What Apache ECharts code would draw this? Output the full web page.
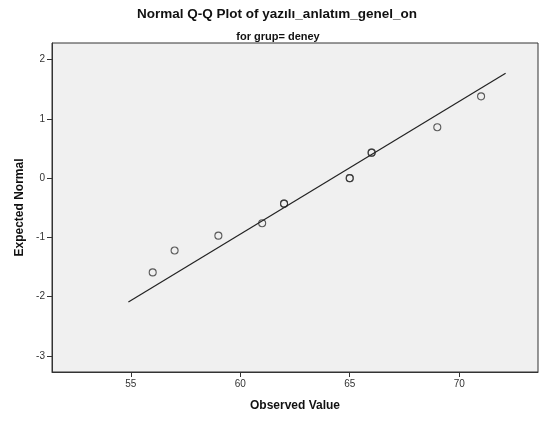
<!DOCTYPE html>
<html>
<head>
<meta charset="utf-8">
<script src="https://cdn.jsdelivr.net/npm/echarts@6/dist/echarts.min.js"></script>
<style>
  html, body { margin: 0; padding: 0; background: #fff; }
  #main { width: 542px; height: 421px; }
</style>
</head>
<body>
<div id="main"></div>
<script>
// observed values and their expected normal scores (ties drawn twice)
var observed = [56, 57, 59, 61, 62, 62, 65, 65, 66, 66, 69, 71];
var expected = [-1.59, -1.22, -0.97, -0.76, -0.43, -0.43, 0.0, 0.0, 0.43, 0.43, 0.86, 1.38];
// reference line end points
var lineX = [54.89, 72.12];
var lineY = [-2.09, 1.77];
var xTicks = [55, 60, 65, 70];
var yTicks = [-3, -2, -1, 0, 1, 2];

var font = 'Liberation Sans, Arial, sans-serif';
var myChart = echarts.init(document.getElementById('main'));

myChart.setOption({
  backgroundColor: '#fff',
  animation: false,
  title: [{
    text: 'Normal Q-Q Plot of yazılı_anlatım_genel_on',
    left: 272, top: 2, textAlign: 'center',
    textStyle: { fontFamily: font, fontSize: 13.5, fontWeight: 'bold', color: '#111' }
  }, {
    text: 'for grup= deney',
    left: 273, top: 26, textAlign: 'center',
    textStyle: { fontFamily: font, fontSize: 11, fontWeight: 'bold', color: '#111' }
  }],
  grid: {
    left: 52, top: 43, right: 4, bottom: 49,
    show: true,
    backgroundColor: '#f0f0f0',
    borderColor: '#333',
    borderWidth: 1
  },
  xAxis: {
    type: 'value',
    min: 51.4, max: 73.6,
    name: 'Observed Value',
    nameLocation: 'middle',
    nameGap: 28,
    nameTextStyle: { fontFamily: font, fontSize: 12, fontWeight: 'bold', color: '#111' },
    axisLine: { show: true, onZero: false, lineStyle: { color: '#333' } },
    axisTick: { show: true, length: 5, customValues: xTicks, lineStyle: { color: '#333' } },
    axisLabel: { customValues: xTicks, fontFamily: font, fontSize: 10, color: '#333', margin: 7 },
    splitLine: { show: false }
  },
  yAxis: {
    type: 'value',
    min: -3.27, max: 2.28,
    name: 'Expected Normal',
    nameLocation: 'middle',
    nameGap: 24,
    nameTextStyle: { fontFamily: font, fontSize: 12, fontWeight: 'bold', color: '#111' },
    axisLine: { show: true, onZero: false, lineStyle: { color: '#333' } },
    axisTick: { show: true, length: 5, customValues: yTicks, lineStyle: { color: '#333' } },
    axisLabel: { customValues: yTicks, fontFamily: font, fontSize: 10, color: '#333', margin: 7 },
    splitLine: { show: false }
  },
  series: [{
    type: 'line',
    data: lineX.map(function (x, i) { return [x, lineY[i]]; }),
    showSymbol: false,
    silent: true,
    lineStyle: { color: '#222', width: 1.2 }
  }, {
    type: 'scatter',
    data: observed.map(function (x, i) { return [x, expected[i]]; }),
    symbol: 'circle',
    symbolSize: 7,
    itemStyle: { color: 'rgba(0,0,0,0)', borderColor: '#333', borderWidth: 1.1 }
  }]
});
</script>
</body>
</html>
